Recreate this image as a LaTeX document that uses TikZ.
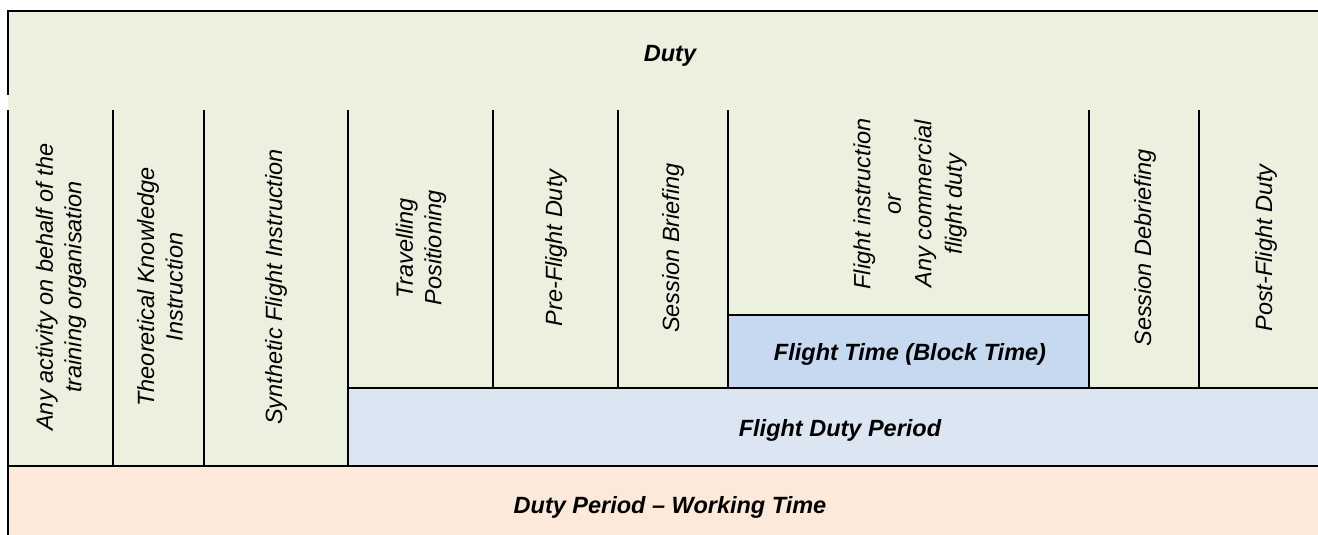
\documentclass[tikz,border=0pt]{standalone}
\usepackage{fontspec}
\setmainfont{Liberation Sans}
\usepackage{xcolor}

\definecolor{dutygreen}{HTML}{EBF1DE}
\definecolor{fdpblue}{HTML}{DCE6F2}
\definecolor{ftblue}{HTML}{C6D9F1}
\definecolor{dpsalmon}{HTML}{FDE9D9}

\begin{document}
\begin{tikzpicture}[x=1pt, y=-1pt, line width=2pt,
    every node/.style={font=\fontsize{23.5}{28.5}\selectfont\itshape, align=center, inner sep=0pt},
    vlabel/.style={rotate=90},
    band/.style={font=\fontsize{23.5}{28.5}\selectfont\itshape\bfseries, anchor=base}]

    \useasboundingbox (0,0) rectangle (1318,535);

    % Fills
    \fill[dutygreen] (8,11) rectangle (1340,466);
    \fill[fdpblue] (348,388) rectangle (1340,466);
    \fill[ftblue] (728,315) rectangle (1089,388);
    \fill[dpsalmon] (8,466) rectangle (1340,540);

    % Frame
    \draw (8,11) -- (1340,11);
    \draw (8,10) -- (8,95);
    \draw (8,110) -- (8,540);

    % Column lines
    \foreach \cx in {113,204,348} \draw (\cx,110) -- (\cx,466);
    \foreach \cx in {493,618,728,1089,1199} \draw (\cx,110) -- (\cx,388);
    \draw (728,315) -- (1089,315);
    \draw (348,388) -- (1340,388);
    \draw (8,466) -- (1340,466);

    % Nodes
    \node[band] (duty) at (670,62) {Duty};
    \node[vlabel] (activity) at (61,287) {Any activity on behalf of the\\training organisation};
    \node[vlabel] (theory) at (160,287) {Theoretical Knowledge\\Instruction};
    \node[vlabel] (synthetic) at (276,287) {Synthetic Flight Instruction};
    \node[vlabel] (travel) at (421,248) {Travelling\\Positioning};
    \node[vlabel] (preflight) at (556,248) {Pre-Flight Duty};
    \node[vlabel] (briefing) at (673,248) {Session Briefing};
    \node[vlabel, font=\fontsize{23.5}{30.5}\selectfont\itshape] (flightinstr) at (910,204) {Flight instruction\\or\\Any commercial\\flight duty};
    \node[vlabel] (debriefing) at (1145,248) {Session Debriefing};
    \node[vlabel] (postflight) at (1266,248) {Post-Flight Duty};
    \node[band] (flighttime) at (910,360) {Flight Time (Block Time)};
    \node[band] (fdp) at (840,436) {Flight Duty Period};
    \node[band] (dutyperiod) at (670,513) {Duty Period – Working Time};

\end{tikzpicture}
\end{document}
